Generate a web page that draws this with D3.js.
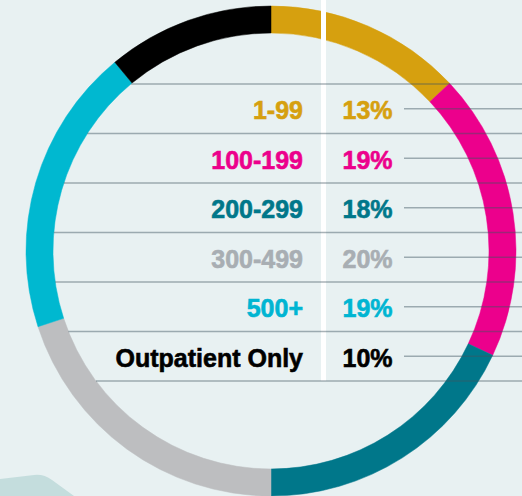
<!DOCTYPE html>
<html>
<head>
<meta charset="utf-8">
<script src="https://cdn.jsdelivr.net/npm/d3@7"></script>
<style>
html,body{margin:0;padding:0;background:#e8f1f2;}
svg{display:block;}
</style>
</head>
<body>
<div id="chart"></div>
<script>
const categories = ["1-99", "100-199", "200-299", "300-499", "500+", "Outpatient Only"];
const values = [13, 19, 18, 20, 19, 10];
const ringColors = ["#d6a00f", "#ec008c", "#00778a", "#bdbec0", "#00b8d0", "#000000"];
const textColors = ["#d6a00f", "#ec008c", "#00778a", "#a8aeb3", "#00b5d2", "#000000"];

const W = 522, H = 496;
const cx = 271, cy = 251, rOuter = 245, rInner = 218;

const svg = d3.select("#chart").append("svg").attr("width", W).attr("height", H);
svg.append("rect").attr("width", W).attr("height", H).attr("fill", "#e8f1f2");

svg.append("path")
  .attr("d", "M0,479 L34,475 Q44,474 52,480 L74,496 L0,496 Z")
  .attr("fill", "#c4dddd");

const angle = d3.scaleLinear().domain([0, 100]).range([0, 2 * Math.PI]);
const cum = d3.cumsum(values);
const arcsData = values.map((v, i) => ({
  startAngle: angle(i === 0 ? 0 : cum[i - 1]),
  endAngle: i === values.length - 1 ? angle(100) : angle(cum[i]),
  color: ringColors[i]
}));
const arc = d3.arc().innerRadius(rInner).outerRadius(rOuter);
const g = svg.append("g").attr("transform", `translate(${cx},${cy})`);
g.selectAll("path.seg").data(arcsData).join("path")
  .attr("class", "seg")
  .attr("d", arc)
  .attr("fill", d => d.color)
  .attr("stroke", d => d.color)
  .attr("stroke-width", 0.5);

const rows = d3.scaleBand().domain(d3.range(categories.length)).range([84, 381]);
const xWhite = 323.5;

svg.append("rect").attr("x", xWhite - 2.5).attr("y", 0).attr("width", 5).attr("height", 381).attr("fill", "#ffffff");

const sepYs = d3.range(categories.length + 1).map(i => i < categories.length ? rows(i) : rows(i - 1) + rows.bandwidth());
svg.selectAll("line.sep").data(sepYs).join("line")
  .attr("class", "sep")
  .attr("x1", y => cx - Math.sqrt(rInner * rInner - (y - cy) * (y - cy)))
  .attr("x2", W)
  .attr("y1", y => y).attr("y2", y => y)
  .attr("stroke", "#3f5560").attr("stroke-opacity", 0.45).attr("stroke-width", 1.3);

svg.selectAll("line.lead").data(categories).join("line")
  .attr("class", "lead")
  .attr("x1", 404).attr("x2", W)
  .attr("y1", (d, i) => rows(i) + rows.bandwidth() / 2)
  .attr("y2", (d, i) => rows(i) + rows.bandwidth() / 2)
  .attr("stroke", "#3f5560").attr("stroke-opacity", 0.45).attr("stroke-width", 1.3);

const font = "'Liberation Sans', Arial, Helvetica, sans-serif";
const fs = 25;

svg.selectAll("text.cat").data(categories).join("text")
  .attr("class", "cat")
  .attr("x", 303)
  .attr("y", (d, i) => rows(i) + rows.bandwidth() / 2 + 10.6)
  .attr("text-anchor", "end")
  .attr("font-family", font).attr("font-weight", "bold").attr("font-size", fs)
  .attr("fill", (d, i) => textColors[i])
  .attr("stroke", (d, i) => textColors[i]).attr("stroke-width", 0.6)
  .text(d => d);

svg.selectAll("text.val").data(values).join("text")
  .attr("class", "val")
  .attr("x", 342.5)
  .attr("y", (d, i) => rows(i) + rows.bandwidth() / 2 + 10.6)
  .attr("text-anchor", "start")
  .attr("font-family", font).attr("font-weight", "bold").attr("font-size", fs)
  .attr("fill", (d, i) => textColors[i])
  .attr("stroke", (d, i) => textColors[i]).attr("stroke-width", 0.6)
  .text(d => d + "%");
</script>
</body>
</html>
